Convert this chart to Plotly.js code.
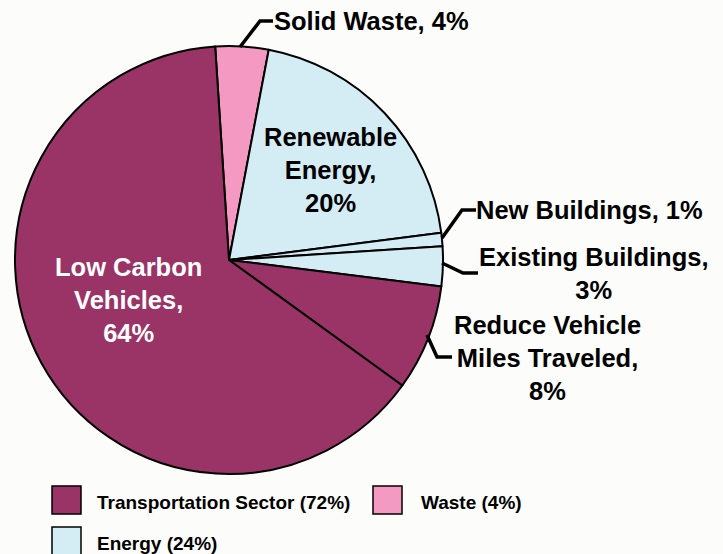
<!DOCTYPE html>
<html>
<head>
<meta charset="utf-8">
<script src="https://cdn.plot.ly/plotly-3.0.1.min.js"></script>
<style>html,body{margin:0;padding:0;background:#fff;}#chart{width:723px;height:554px;}</style>
</head>
<body>
<div id="chart"></div>
<script>
// ---- data ----
var sliceLabels = ["Solid Waste", "Renewable Energy", "New Buildings", "Existing Buildings", "Reduce Vehicle Miles Traveled", "Low Carbon Vehicles"];
var sliceValues = [4, 20, 1, 3, 8, 64];
var sliceSector = ["Waste", "Energy", "Energy", "Energy", "Transportation", "Transportation"];
var sectorNames = ["Transportation Sector", "Waste", "Energy"];
var sectorShares = [72, 4, 24];
var sectorKeys = ["Transportation", "Waste", "Energy"];
var sectorColors = {"Transportation": "#9a3366", "Waste": "#f49ac2", "Energy": "#d4ecf4"};

var W = 723, H = 554;
function px(x){ return x / W; }
function py(y){ return 1 - y / H; }

var cx = 229, cy = 260, R = 214;

var trace = {
  type: "pie",
  labels: sliceLabels,
  values: sliceValues,
  sort: false,
  direction: "clockwise",
  rotation: -3.7,
  marker: {colors: sliceSector.map(function(s){ return sectorColors[s]; }), line: {color: "#000", width: 2}},
  textinfo: "none",
  hoverinfo: "label+percent",
  showlegend: false,
  domain: {x: [px(cx - R), px(cx + R)], y: [py(cy + R), py(cy - R)]}
};

var F = "Liberation Sans, Arial, sans-serif";
var FS = 25.5;
function lab(i){ return "<b>" + sliceLabels[i] + ", " + sliceValues[i] + "%</b>"; }

var annotations = [
  {text: lab(0), x: px(272), y: py(21), xanchor: "left", yanchor: "middle", font: {size: FS, color: "#000"}},
  {text: "<b>Renewable<br>Energy,<br>" + sliceValues[1] + "%</b>", x: px(330), y: py(170), xanchor: "center", yanchor: "middle", align: "center", font: {size: FS, color: "#000"}},
  {text: lab(2), x: px(474), y: py(210), xanchor: "left", yanchor: "middle", font: {size: FS, color: "#000"}},
  {text: "<b>" + sliceLabels[3] + ",<br>" + sliceValues[3] + "%</b>", x: px(594), y: py(273), xanchor: "center", yanchor: "middle", align: "center", font: {size: FS, color: "#000"}},
  {text: "<b>Reduce Vehicle<br>Miles Traveled,<br>" + sliceValues[4] + "%</b>", x: px(547), y: py(358), xanchor: "center", yanchor: "middle", align: "center", font: {size: FS, color: "#000"}},
  {text: "<b>Low Carbon<br>Vehicles,<br>" + sliceValues[5] + "%</b>", x: px(128), y: py(300), xanchor: "center", yanchor: "middle", align: "center", font: {size: FS, color: "#fff"}}
];

var lw = 3.5;
function pth(pts){ return "M" + pts.map(function(p){ return px(p[0]) + "," + py(p[1]); }).join(" L"); }
var shapes = [
  {type: "path", xref: "paper", yref: "paper", path: pth([[240,47],[260,21],[273,21]]), line: {color: "#000", width: lw}},
  {type: "path", xref: "paper", yref: "paper", path: pth([[442,238],[462,210],[476,210]]), line: {color: "#000", width: lw}},
  {type: "path", xref: "paper", yref: "paper", path: pth([[442,263],[463,273],[478,273]]), line: {color: "#000", width: lw}},
  {type: "path", xref: "paper", yref: "paper", path: pth([[427,335],[437,357],[452,357]]), line: {color: "#000", width: lw}}
];

// legend (built from sector arrays)
var legPos = [[52, 486], [373, 486], [52, 527]];
var legText = [95, 419, 95];
for (var k = 0; k < sectorNames.length; k++) {
  var p = legPos[k];
  shapes.push({type: "rect", xref: "paper", yref: "paper", x0: px(p[0]), x1: px(p[0] + 29), y0: py(p[1] + 28), y1: py(p[1]),
    fillcolor: sectorColors[sectorKeys[k]], line: {color: "#000", width: 1.5}});
  annotations.push({text: "<b>" + sectorNames[k] + " (" + sectorShares[k] + "%)</b>", x: px(legText[k]), y: py(p[1] + 16),
    xanchor: "left", yanchor: "middle", font: {size: 19, color: "#000"}});
}

annotations.forEach(function(a){ a.xref = "paper"; a.yref = "paper"; a.showarrow = false; a.font.family = F; });

var layout = {
  width: W, height: H,
  margin: {l: 0, r: 0, t: 0, b: 0},
  paper_bgcolor: "#fcfdfb",
  plot_bgcolor: "#fcfdfb",
  showlegend: false,
  annotations: annotations,
  shapes: shapes,
  font: {family: F}
};

Plotly.newPlot("chart", [trace], layout, {displayModeBar: false, staticPlot: true});
</script>
</body>
</html>
